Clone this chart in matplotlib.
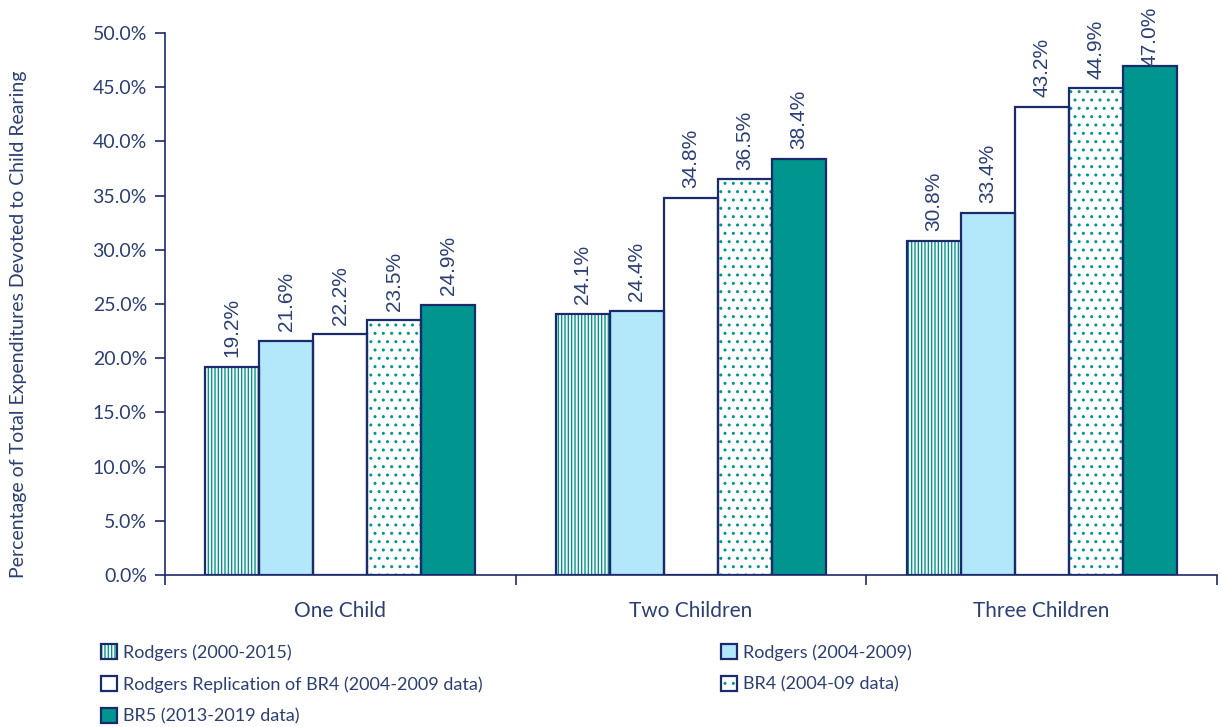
import numpy as np
import matplotlib
matplotlib.use('Agg')
import matplotlib.pyplot as plt
import matplotlib.patches as mpatches
from matplotlib.legend_handler import HandlerTuple
from matplotlib.ticker import FixedLocator, FuncFormatter

# ---------------------
# data
# ---------------------
categories = ['One Child', 'Two Children', 'Three Children']
series_names = ['Rodgers (2000-2015)',
                'Rodgers (2004-2009)',
                'Rodgers Replication of BR4 (2004-2009 data)',
                'BR4 (2004-09 data)',
                'BR5 (2013-2019 data)']
rodgers_2000_2015 = [19.2, 24.1, 30.8]
rodgers_2004_2009 = [21.6, 24.4, 33.4]
rodgers_replication = [22.2, 34.8, 43.2]
br4 = [23.5, 36.5, 44.9]
br5 = [24.9, 38.4, 47.0]
yticks = np.arange(0, 50.1, 5)

# ---------------------
# styles
# ---------------------
navy = '#1b2a6b'
text_col = '#2b3f73'
teal = '#00958f'
light_blue = '#b3e8fa'
styles = [dict(fc='white', hatch='|||||', hc=teal),
          dict(fc=light_blue, hatch=None, hc=light_blue),
          dict(fc='white', hatch=None, hc='white'),
          dict(fc='white', hatch='..', hc=teal),
          dict(fc=teal, hatch=None, hc=teal)]

plt.rcParams['hatch.linewidth'] = 1.0
plt.rcParams['font.family'] = ['Lato', 'DejaVu Sans']

fig = plt.figure(figsize=(12.21, 7.27), dpi=100)
ax = fig.add_axes([165/1221, 1-575/727, (1217-165)/1221, (575-33)/727])

allvals = [rodgers_2000_2015, rodgers_2004_2009, rodgers_replication, br4, br5]
x = np.arange(len(categories)) + 0.5
w = 0.154
handles = []
for i, (vals, st) in enumerate(zip(allvals, styles)):
    pos = x + (i - 2) * w
    ax.bar(pos, vals, w, color=st['fc'], hatch=st['hatch'], edgecolor=st['hc'],
           linewidth=0, zorder=2)
    ax.bar(pos, vals, w, fill=False, edgecolor=navy, linewidth=1.6, zorder=3)
    for p, v in zip(pos, vals):
        # label sits above bar, pushed down if it would run off the top
        ly = min(v + 0.9, 47.0)
        ax.text(p, ly, '{:.1f}%'.format(v), rotation=90, ha='center',
                va='bottom', fontsize=15, color=text_col,
                family='Liberation Sans', zorder=4)
    h1 = mpatches.Patch(facecolor=st['fc'], hatch=st['hatch'], edgecolor=st['hc'], linewidth=0)
    h2 = mpatches.Patch(fill=False, edgecolor=navy, linewidth=1.6)
    handles.append((h1, h2))

ax.set_xlim(0, 3)
ax.set_ylim(0, 50)
ax.set_yticks(yticks)
ax.yaxis.set_major_formatter(FuncFormatter(lambda v, p: '{:.1f}%'.format(v)))
ax.set_xticks([0, 1, 2, 3])
ax.set_xticklabels([])
ax.xaxis.set_minor_locator(FixedLocator(x))
ax.set_xticks(x, minor=True)
ax.set_xticklabels(categories, minor=True)
ax.tick_params(axis='x', which='minor', length=0, pad=19, labelsize=15, labelcolor=text_col)
ax.tick_params(axis='x', which='major', length=7, width=1.2, color=navy)
ax.tick_params(axis='y', length=7, width=1.2, color=navy, labelsize=14, labelcolor=text_col, pad=6)
for s in ['top', 'right']:
    ax.spines[s].set_visible(False)
for s in ['left', 'bottom']:
    ax.spines[s].set_color(navy)
    ax.spines[s].set_linewidth(1.2)

fig.text(19/1221, 1-324/727, 'Percentage of Total Expenditures Devoted to Child Rearing',
         rotation=90, ha='center', va='center', fontsize=14, color=text_col)

# legend in two columns, placed separately
leg_kw = dict(frameon=False, fontsize=13, labelcolor=text_col, handlelength=0.9,
              handleheight=0.9, handletextpad=0.3, labelspacing=0.85,
              handler_map={tuple: HandlerTuple(ndivide=1)}, borderaxespad=0, borderpad=0)
fig.legend([handles[0], handles[2], handles[4]],
           [series_names[0], series_names[2], series_names[4]],
           loc='upper left', bbox_to_anchor=(101/1221, 1-644/727), **leg_kw)
fig.legend([handles[1], handles[3]], [series_names[1], series_names[3]],
           loc='upper left', bbox_to_anchor=(721/1221, 1-644/727), **leg_kw)

fig.savefig('out.png', dpi=100)
